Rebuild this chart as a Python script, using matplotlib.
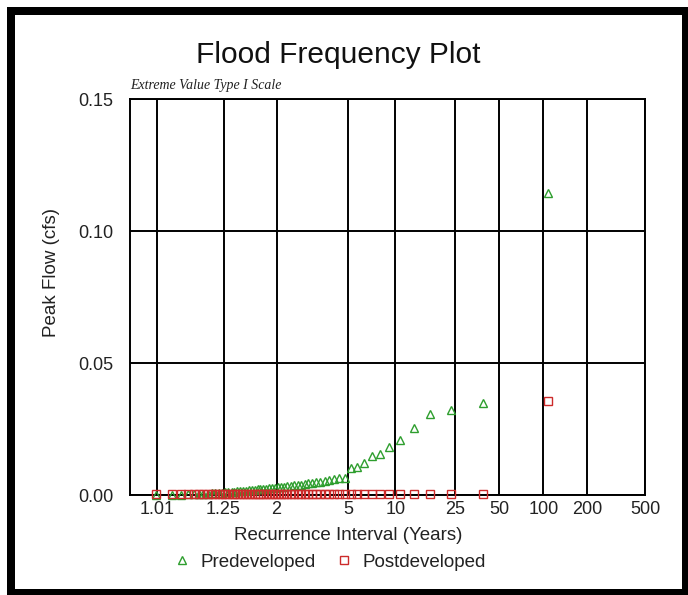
import numpy as np
import matplotlib
matplotlib.use("Agg")
import matplotlib.pyplot as plt
from matplotlib.patches import Rectangle

plt.rcParams['font.family'] = ['Liberation Sans', 'DejaVu Sans']

# recurrence interval (years) of each ranked annual peak, largest first
recurrence = [107.36, 38.54, 23.48, 16.89, 13.18, 10.81, 9.165, 7.952, 7.023, 6.289,
              5.693, 5.201, 4.787, 4.434, 4.129, 3.864, 3.630, 3.424, 3.239, 3.074,
              2.924, 2.788, 2.665, 2.552, 2.447, 2.352, 2.263, 2.181, 2.105, 2.034,
              1.967, 1.905, 1.847, 1.791, 1.740, 1.691, 1.644, 1.601, 1.559, 1.520,
              1.482, 1.447, 1.413, 1.380, 1.349, 1.320, 1.291, 1.264, 1.238, 1.214,
              1.190, 1.167, 1.144, 1.123, 1.102, 1.082, 1.063, 1.045, 1.027, 1.009]

predeveloped = [0.1144, 0.0350, 0.0322, 0.0307, 0.0253, 0.0208, 0.0183, 0.0155, 0.0148, 0.0120,
                0.0105, 0.0104, 0.0066, 0.0063, 0.0060, 0.0057, 0.0052, 0.0050, 0.0048, 0.0045,
                0.0044, 0.0041, 0.0039, 0.0038, 0.0037, 0.0034, 0.0033, 0.0032, 0.0030, 0.0029,
                0.0027, 0.0026, 0.0025, 0.0024, 0.0023, 0.0022, 0.0021, 0.0020, 0.0019, 0.0018,
                0.0017, 0.0016, 0.0015, 0.0014, 0.0013, 0.0012, 0.0011, 0.0010, 0.0009, 0.0008,
                0.0007, 0.0006, 0.0005, 0.0004, 0.0003, 0.0003, 0.0002, 0.0001, 0.0000, 0.0000]

postdeveloped = [0.0357] + [0.0002] * 59

xticks = [1.01, 1.25, 2, 5, 10, 25, 50, 100, 200, 500]
xticklabels = ['1.01', '1.25', '2', '5', '10', '25', '50', '100', '200', '500']
yticks = [0.0, 0.05, 0.10, 0.15]
yticklabels = ['0.00', '0.05', '0.10', '0.15']


def gumbel(t):
    t = np.clip(np.asarray(t, dtype=float), 1.0000001, None)
    return -np.log(-np.log(1.0 - 1.0 / t))


def gumbel_inv(y):
    y = np.asarray(y, dtype=float)
    return 1.0 / (1.0 - np.exp(-np.exp(-y)))


W, H = 688, 595
fig = plt.figure(figsize=(W / 100, H / 100), dpi=100)
ax = fig.add_axes([130 / W, 1 - 495 / H, (645 - 130) / W, (495 - 99) / H])

ax.set_xscale('function', functions=(gumbel, gumbel_inv))
ax.set_xlim(float(gumbel_inv(-1.96)), 500)
ax.set_ylim(0, 0.15)

ax.plot(recurrence, predeveloped, linestyle='none', marker='^', markersize=6,
        markerfacecolor='none', markeredgecolor='#2e9e2e', markeredgewidth=1.0,
        clip_on=False, zorder=3, label='Predeveloped')
ax.plot(recurrence, postdeveloped, linestyle='none', marker='s', markersize=6,
        markerfacecolor='none', markeredgecolor='#cc2a2a', markeredgewidth=1.0,
        clip_on=False, zorder=3, label='Postdeveloped')

ax.set_xticks(xticks)
ax.set_xticklabels(xticklabels)
ax.xaxis.set_minor_locator(matplotlib.ticker.NullLocator())
ax.set_yticks(yticks)
ax.set_yticklabels(yticklabels)
ax.tick_params(length=0, labelsize=13, labelcolor='#222222')
ax.tick_params(axis='y', pad=12)
ax.tick_params(axis='x', pad=4)
ax.grid(True, color='black', linewidth=1.4)
ax.set_axisbelow(True)
for s in ax.spines.values():
    s.set_linewidth(1.4)

fig.text(338 / W, 1 - 55 / H, 'Flood Frequency Plot', ha='center', va='center',
         fontsize=21.5, color='#111111')
fig.text(130 / W, 1 - 86 / H, 'Extreme Value Type I Scale', ha='left', va='center',
         fontsize=10, style='italic', family=['Liberation Serif', 'DejaVu Serif'], color='#222222')
fig.text(348 / W, 1 - 535 / H, 'Recurrence Interval (Years)', ha='center', va='center',
         fontsize=13.5, color='#222222')
fig.text(52 / W, 1 - 273 / H, 'Peak Flow (cfs)', ha='center', va='center',
         rotation=90, fontsize=13.5, color='#222222')

fig.legend(loc='center', bbox_to_anchor=(329 / W, 1 - 562 / H), ncol=2, frameon=False,
           fontsize=13.5, handlelength=1.0, handletextpad=0.5, columnspacing=1.0,
           markerscale=0.85, labelcolor='#222222')

# black frame around the whole picture
for x0, y0, w, h in [(7, 7, 8, 588), (7, 7, 681, 8), (7, 589, 681, 6), (682, 7, 6, 588)]:
    fig.add_artist(Rectangle((x0 / W, 1 - (y0 + h) / H), w / W, h / H,
                             transform=fig.transFigure, color='black', lw=0))

fig.savefig('out.png', dpi=100)
